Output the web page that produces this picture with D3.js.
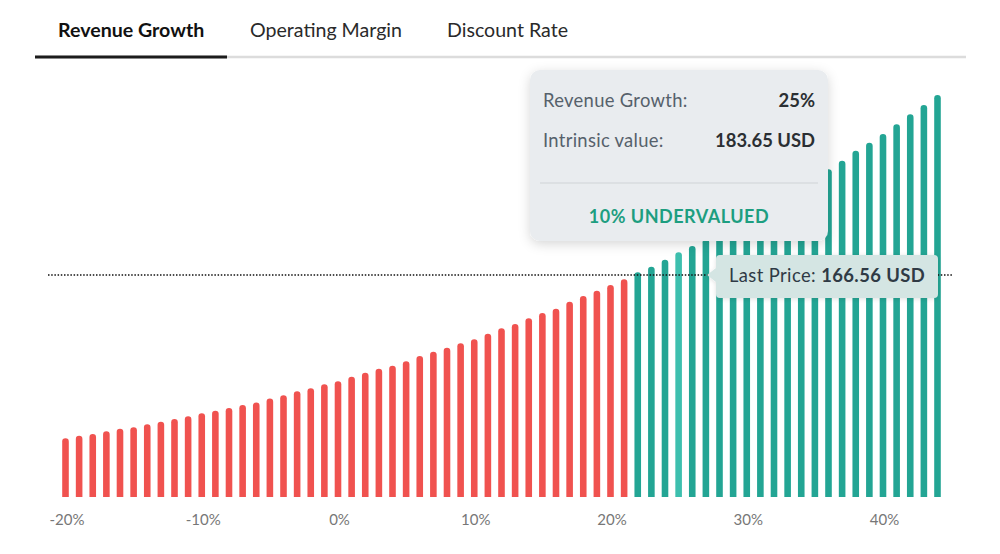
<!DOCTYPE html>
<html><head><meta charset="utf-8">
<script src="https://cdn.jsdelivr.net/npm/d3@7"></script>
<style>
html,body{margin:0;padding:0;background:#fff;}
svg{display:block;font-family:Lato, "Open Sans", sans-serif;}
</style></head>
<body>
<svg id="chart" width="1000" height="554"></svg>
<script>
const tabs = ["Revenue Growth", "Operating Margin", "Discount Rate"];
const growthRates = d3.range(-20, 45, 1); // -20% .. 44%
const intrinsicValues = [
 44.0, 46.0, 47.3, 49.3, 51.2, 52.3, 54.5, 56.5, 58.5, 60.5,
 62.8, 64.7, 66.8, 69.0, 71.0, 74.0, 76.3, 79.3, 81.6, 84.6,
 86.8, 90.3, 93.3, 96.3, 98.5, 101.8, 105.8, 109.0, 112.0, 115.3,
 118.3, 122.5, 126.6, 129.8, 134.1, 138.0, 141.3, 146.5, 150.8, 154.8,
 159.1, 163.3, 168.6, 172.8, 178.0, 183.65, 188.3, 193.6, 198.8, 204.1,
 209.3, 214.9, 220.6, 226.6, 232.6, 239.0, 245.9, 252.3, 259.8, 265.8,
 272.3, 279.6, 287.1, 294.1, 301.6
];
const tickValues = [-20, -10, 0, 10, 20, 30, 40];
const lastPrice = 166.56;
const selectedRate = 25;

const data = growthRates.map((g, i) => ({g, v: intrinsicValues[i]}));
const svg = d3.select("#chart");

const defs = svg.append("defs");
const f = defs.append("filter").attr("id", "shadow").attr("x", "-20%").attr("y", "-20%").attr("width", "140%").attr("height", "150%");
f.append("feDropShadow").attr("dx", 0).attr("dy", 3).attr("stdDeviation", 6).attr("flood-color", "#000").attr("flood-opacity", 0.16);
const f2 = defs.append("filter").attr("id", "shadow2").attr("x", "-20%").attr("y", "-40%").attr("width", "140%").attr("height", "180%");
f2.append("feDropShadow").attr("dx", 0).attr("dy", 1).attr("stdDeviation", 2).attr("flood-color", "#000").attr("flood-opacity", 0.12);

// Tabs
const tabX = [58, 250, 447];
svg.append("line").attr("x1", 35).attr("x2", 966).attr("y1", 57).attr("y2", 57).attr("stroke", "#dcdcdc").attr("stroke-width", 2.5);
svg.append("line").attr("x1", 35).attr("x2", 227).attr("y1", 57).attr("y2", 57).attr("stroke", "#1c1c1c").attr("stroke-width", 3);
svg.selectAll("text.tab").data(tabs).join("text").attr("class", "tab")
  .attr("x", (d, i) => tabX[i]).attr("y", 37)
  .attr("font-size", 19.6).attr("font-weight", (d, i) => i === 0 ? 700 : 400)
  .attr("fill", (d, i) => i === 0 ? "#111" : "#2a2a2a").text(d => d);

// Scales
const x = d3.scalePoint().domain(growthRates).range([65.5, 937.5]);
const y = d3.scaleLinear().domain([0, lastPrice]).range([497, 275]);
const bw = 6.6;

// Bars with rounded tops
function barPath(d) {
  const cx = x(d.g), x0 = cx - bw / 2, x1 = cx + bw / 2, yt = y(d.v), yb = y(0), r = bw / 2;
  return `M${x0},${yb}L${x0},${yt + r}A${r},${r} 0 0 1 ${x1},${yt + r}L${x1},${yb}Z`;
}
svg.append("g").selectAll("path").data(data).join("path")
  .attr("d", barPath)
  .attr("fill", d => d.g === selectedRate ? "#3dbfae" : (d.v < lastPrice ? "#f0524f" : "#23a594"));

// Axis
const axis = d3.axisBottom(x).tickValues(tickValues).tickSize(0).tickPadding(0).tickFormat(d => d + "%");
const ax = svg.append("g").attr("transform", "translate(1,514)").call(axis);
ax.select(".domain").remove();
ax.selectAll("text").attr("font-family", "Lato, sans-serif").attr("font-size", 15).attr("fill", "#777").attr("dy", "0.71em");

// Last price dotted line
svg.append("line").attr("x1", 48).attr("x2", 952).attr("y1", y(lastPrice)).attr("y2", y(lastPrice))
  .attr("stroke", "#111").attr("stroke-width", 1.3).attr("stroke-dasharray", "1.5,1.7");

// Last price label
const lp = svg.append("g").attr("filter", "url(#shadow2)");
const ly = y(lastPrice);
lp.append("path")
  .attr("d", `M720,255 H934 Q938,255 938,259 V294 Q938,298 934,298 H720 Q716,298 716,294 V${ly + 7} L707,${ly} L716,${ly - 7} V259 Q716,255 720,255 Z`)
  .attr("fill", "#d4e5e3");
const lt = svg.append("text").attr("x", 827).attr("y", ly + 7).attr("text-anchor", "middle")
  .attr("font-size", 18.4).attr("fill", "#2f3a45").attr("letter-spacing", 0.4);
lt.append("tspan").text("Last Price: ");
lt.append("tspan").attr("font-weight", 700).text(lastPrice.toFixed(2) + " USD");

// Tooltip
const sel = data.find(d => d.g === selectedRate);
const tt = svg.append("g");
tt.append("rect").attr("x", 530).attr("y", 70).attr("width", 298).attr("height", 171).attr("rx", 10)
  .attr("fill", "#e9ecef").attr("filter", "url(#shadow)");
tt.append("text").attr("x", 543).attr("y", 107).attr("font-size", 18.4).attr("fill", "#56616b").attr("letter-spacing", 0.3).text("Revenue Growth:");
tt.append("text").attr("x", 815).attr("y", 107).attr("text-anchor", "end").attr("font-size", 18.4).attr("font-weight", 700).attr("fill", "#2b2f33").text(selectedRate + "%");
tt.append("text").attr("x", 543).attr("y", 147).attr("font-size", 18.4).attr("fill", "#56616b").attr("letter-spacing", 0.3).text("Intrinsic value:");
tt.append("text").attr("x", 815).attr("y", 147).attr("text-anchor", "end").attr("font-size", 18.4).attr("font-weight", 700).attr("fill", "#2b2f33").text(sel.v.toFixed(2) + " USD");
tt.append("line").attr("x1", 540).attr("x2", 818).attr("y1", 183).attr("y2", 183).attr("stroke", "#cfd3d6").attr("stroke-width", 1);
const under = Math.round((sel.v - lastPrice) / lastPrice * 100);
tt.append("text").attr("x", 679).attr("y", 223).attr("text-anchor", "middle").attr("font-size", 18).attr("font-weight", 700)
  .attr("fill", "#1d9e80").attr("letter-spacing", 0.5).text(under + "% UNDERVALUED");
</script>
</body></html>
